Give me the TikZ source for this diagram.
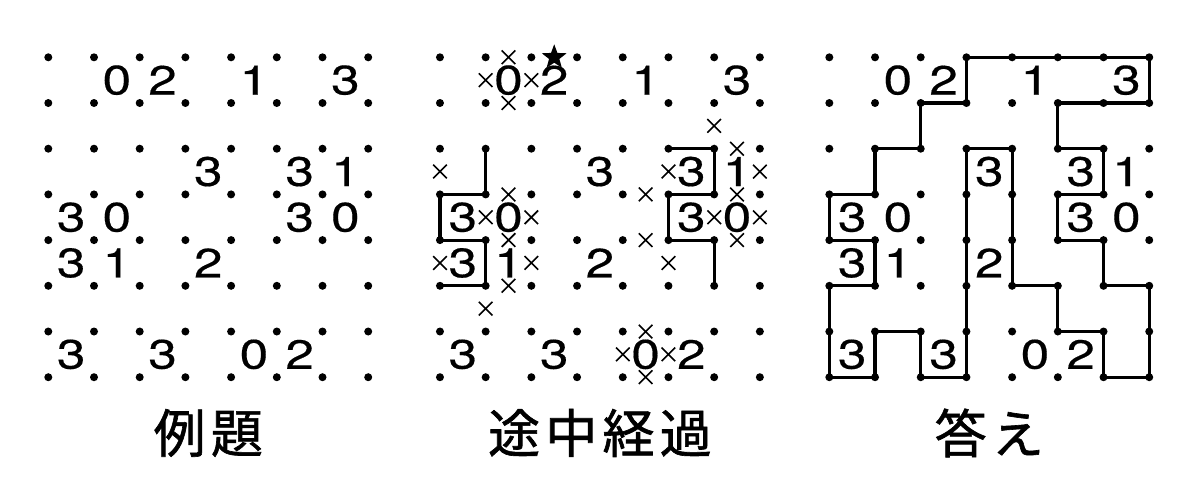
\documentclass[tikz,border=0pt]{standalone}
\usepackage{fontspec}
\setmainfont{TeX Gyre Heros}
\newfontfamily\numfont[FakeStretch=1.25,FakeBold=0.4]{TeX Gyre Heros}
\newfontfamily\jpfont[LetterSpace=10.0,FakeBold=1.2]{Noto Sans CJK JP}
\usetikzlibrary{shapes.misc,shapes.geometric}

\tikzset{
  clue/.style={inner sep=0pt, font=\fontsize{20.5}{24}\numfont},
  loopline/.style={line width=1.6pt, line join=round, line cap=round},
  xmark/.style={cross out, draw, minimum size=6pt, inner sep=0pt, line width=0.8pt},
  startip/.style={star, star points=5, star point ratio=2.4, fill=black, inner sep=0pt, minimum size=13pt},
  caption/.style={inner sep=0pt, font=\fontsize{26}{30}\jpfont}
}

\begin{document}
\begin{tikzpicture}[x=22.85pt,y=-22.85pt]
			\useasboundingbox (-1.057,-1.254) rectangle (25.201,9.4245);

			% dot grids: a = problem, b = halfway, c = answer
			\foreach \p/\dx in {a/0,b/8.57,c/17.09}
				\foreach \i in {0,...,7}
					\foreach \j in {0,...,7}
						\coordinate (\p-\i-\j) at (\dx+\i,\j);

			% halfway lines
			\draw[loopline] (b-1-2) -- (b-1-3) -- (b-0-3) -- (b-0-4) -- (b-1-4) -- (b-1-5) -- (b-0-5);
			\draw[loopline] (b-5-2) -- (b-6-2) -- (b-6-3) -- (b-5-3) -- (b-5-4) -- (b-6-4) -- (b-6-5);

			% answer loop
			\draw[loopline] (c-3-0) -- (c-7-0) -- (c-7-1) -- (c-5-1) -- (c-5-2) -- (c-6-2) -- (c-6-3)
				-- (c-5-3) -- (c-5-4) -- (c-6-4) -- (c-6-5) -- (c-7-5) -- (c-7-7) -- (c-6-7)
				-- (c-6-6) -- (c-5-6) -- (c-5-5) -- (c-4-5) -- (c-4-2) -- (c-3-2) -- (c-3-7)
				-- (c-2-7) -- (c-2-6) -- (c-1-6) -- (c-1-7) -- (c-0-7) -- (c-0-5) -- (c-1-5)
				-- (c-1-4) -- (c-0-4) -- (c-0-3) -- (c-1-3) -- (c-1-2) -- (c-2-2) -- (c-2-1)
				-- (c-3-1) -- cycle;

			\foreach \p in {a,b,c}
				\foreach \i in {0,...,7}
					\foreach \j in {0,...,7}
						\fill (\p-\i-\j) circle (2pt);

			% clues
			\foreach \p in {a,b,c}
				\foreach \i/\j/\n in {1/0/0,2/0/2,4/0/1,6/0/3,3/2/3,5/2/3,6/2/1,0/3/3,1/3/0,
						5/3/3,6/3/0,0/4/3,1/4/1,3/4/2,0/6/3,2/6/3,4/6/0,5/6/2}
					\node[clue] (\p-n-\i-\j) at ([shift={(0.5,0.5)}]\p-\i-\j) {\n};

			% crossed edges
			\foreach \x/\y [count=\k] in {1.5/0,1.5/1,6.5/2,6.5/3,1.5/3,4.5/3,4.5/4,1.5/4,6.5/4,
					1.5/5,4.5/6,4.5/7,1/0.5,2/0.5,6/1.5,0/2.5,5/2.5,7/2.5,1/3.5,2/3.5,
					6/3.5,7/3.5,0/4.5,2/4.5,5/4.5,1/5.5,4/6.5,5/6.5}
				\node[xmark] (b-x\k) at ([shift={(\x,\y)}]b-0-0) {};
			\node[startip] (b-star) at ([shift={(2.5,0)}]b-0-0) {};

			\node[caption] (a-cap) at ([shift={(3.5,8.22)}]a-0-0) {例題};
			\node[caption] (b-cap) at ([shift={(3.5,8.22)}]b-0-0) {途中経過};
			\node[caption] (c-cap) at ([shift={(3.5,8.22)}]c-0-0) {答え};
		\end{tikzpicture}
\end{document}
